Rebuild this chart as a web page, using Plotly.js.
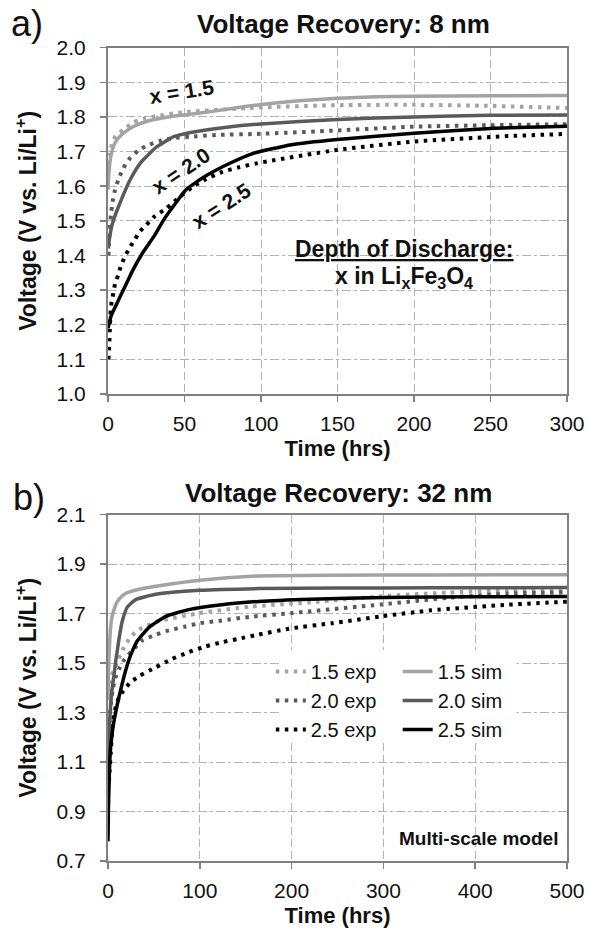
<!DOCTYPE html>
<html><head><meta charset="utf-8">
<script src="https://cdn.plot.ly/plotly-3.0.1.min.js"></script>
<style>html,body{margin:0;padding:0;background:#fff}#chart{width:589px;height:930px}</style>
</head><body><div id="chart"></div>
<script>
// ---------- Panel a: 8 nm ----------
const a_t_15exp = [0.5, 1.2, 2.4, 5, 10, 16.5, 24, 32, 50, 97, 150, 200, 250, 300];
const a_v_15exp = [1.66, 1.69, 1.719, 1.745, 1.763, 1.784, 1.796, 1.803, 1.814, 1.827, 1.834, 1.835, 1.832, 1.826];
const a_t_20exp = [0.3, 1, 2, 3, 4.6, 6.7, 10, 14.4, 19.8, 26.3, 34, 42.7, 53.6, 71, 97, 150, 200, 263, 300];
const a_v_20exp = [1.40, 1.47, 1.52, 1.555, 1.589, 1.618, 1.652, 1.681, 1.703, 1.719, 1.731, 1.739, 1.743, 1.748, 1.751, 1.761, 1.772, 1.777, 1.779];
const a_t_25exp = [0.3, 0.8, 1.3, 1.8, 2.4, 3.5, 4.6, 6.7, 8.3, 10.5, 13.3, 16.5, 21, 25, 29.6, 38.4, 47, 55, 63, 75, 86, 97, 150, 200, 263, 300];
const a_v_25exp = [1.10, 1.14, 1.20, 1.243, 1.267, 1.291, 1.318, 1.344, 1.368, 1.392, 1.416, 1.439, 1.47, 1.488, 1.510, 1.537, 1.57, 1.597, 1.618, 1.642, 1.655, 1.666, 1.705, 1.729, 1.745, 1.751];
const a_t_15sim = [0, 1, 2, 4, 6, 10, 16, 25, 38, 50, 65, 80, 100, 125, 150, 175, 200, 250, 300];
const a_v_15sim = [1.59, 1.66, 1.69, 1.72, 1.735, 1.753, 1.771, 1.787, 1.799, 1.806, 1.814, 1.824, 1.836, 1.847, 1.854, 1.858, 1.860, 1.861, 1.862];
const a_t_20sim = [0, 1, 2.4, 5, 7.8, 10, 14.4, 21, 32, 43, 54, 75, 100, 150, 200, 250, 300];
const a_v_20sim = [1.42, 1.45, 1.484, 1.52, 1.551, 1.575, 1.618, 1.666, 1.714, 1.743, 1.755, 1.769, 1.780, 1.793, 1.800, 1.805, 1.806];
const a_t_25sim = [0, 2, 4.6, 10, 16.5, 23, 30, 36, 44, 51, 64, 80, 95, 120, 150, 200, 250, 300];
const a_v_25sim = [1.19, 1.225, 1.25, 1.30, 1.36, 1.41, 1.455, 1.50, 1.55, 1.59, 1.63, 1.667, 1.695, 1.72, 1.735, 1.753, 1.767, 1.773];

// ---------- Panel b: 32 nm ----------
const b_t_15exp = [1, 2.5, 4.7, 10, 17.4, 24.6, 33.7, 52, 100, 155, 226, 298, 371, 436, 500];
const b_v_15exp = [1.38, 1.42, 1.456, 1.503, 1.564, 1.605, 1.635, 1.666, 1.702, 1.728, 1.747, 1.770, 1.785, 1.795, 1.80];
const b_t_20exp = [0.5, 1.5, 3, 5, 8, 12, 18, 26.4, 37.3, 51.8, 66.3, 84.5, 100, 124, 155, 200, 298, 371, 436, 500];
const b_v_20exp = [1.15, 1.25, 1.33, 1.39, 1.44, 1.476, 1.515, 1.55, 1.591, 1.614, 1.632, 1.648, 1.661, 1.672, 1.687, 1.702, 1.737, 1.764, 1.781, 1.786];
const b_t_25exp = [1, 1.8, 2.9, 4, 5.4, 8.3, 12, 18, 24.6, 33.7, 52, 70, 88, 106, 124, 142, 160, 197, 244, 298, 352, 436, 500];
const b_v_25exp = [1.02, 1.064, 1.132, 1.20, 1.267, 1.32, 1.361, 1.395, 1.422, 1.447, 1.483, 1.517, 1.544, 1.567, 1.584, 1.598, 1.612, 1.639, 1.661, 1.689, 1.713, 1.736, 1.748];
const b_t_15sim = [0, 0.5, 1, 2, 3, 4.5, 6.5, 8.3, 12, 19, 34, 52, 100, 164, 250, 350, 500];
const b_v_15sim = [1.35, 1.45, 1.52, 1.60, 1.65, 1.69, 1.715, 1.735, 1.758, 1.781, 1.798, 1.810, 1.835, 1.852, 1.855, 1.856, 1.857];
const b_t_20sim = [0, 1, 2, 3.5, 5, 6.5, 8.5, 10.5, 12.5, 15.6, 21, 30, 52, 100, 164, 250, 350, 500];
const b_v_20sim = [1.10, 1.20, 1.28, 1.36, 1.41, 1.45, 1.51, 1.56, 1.61, 1.67, 1.726, 1.756, 1.778, 1.794, 1.801, 1.803, 1.804, 1.805];
const b_t_25sim = [0, 0.4, 1.1, 1.8, 2.9, 5.4, 10, 15, 20, 25, 32, 45, 63, 88, 124, 164, 220, 300, 400, 500];
const b_v_25sim = [0.78, 0.90, 1.00, 1.09, 1.16, 1.24, 1.33, 1.41, 1.48, 1.535, 1.59, 1.645, 1.689, 1.716, 1.736, 1.749, 1.758, 1.765, 1.768, 1.769];

// tick labels
const a_xticks = [0, 50, 100, 150, 200, 250, 300];
const a_yticks = [1.0, 1.1, 1.2, 1.3, 1.4, 1.5, 1.6, 1.7, 1.8, 1.9, 2.0];
const b_xticks = [0, 100, 200, 300, 400, 500];
const b_yticks = [0.7, 0.9, 1.1, 1.3, 1.5, 1.7, 1.9, 2.1];

const legendNames = ['1.5 exp', '2.0 exp', '2.5 exp', '1.5 sim', '2.0 sim', '2.5 sim'];

// ---------- styling ----------
const W = 589, H = 930, ML = 108, MR = 21.5;
const PW = W - ML - MR;
const X = px => (px - ML) / PW;
const Y = py => 1 - py / H;
const FONT = 'Liberation Sans, Arial, Helvetica, sans-serif';
const C_LIGHT = '#a3a3a3', C_DARK = '#5a5a5a', C_BLACK = '#000000';
const DOT = '3.5px,5.5px';

function exp(t, v, color, xa, ya, name, legend) {
  return {x: t, y: v, type: 'scatter', mode: 'lines', xaxis: xa, yaxis: ya,
    name: name, showlegend: !!legend, legend: legend || 'legend',
    line: {color: color, width: 4, dash: DOT, shape: 'spline', smoothing: 0.5}};
}
function sim(t, v, color, xa, ya, name, legend) {
  return {x: t, y: v, type: 'scatter', mode: 'lines', xaxis: xa, yaxis: ya,
    name: name, showlegend: !!legend, legend: legend || 'legend',
    line: {color: color, width: 3.5, shape: 'spline', smoothing: 0.5}};
}

const traces = [
  exp(a_t_15exp, a_v_15exp, C_LIGHT, 'x', 'y', '1.5 exp'),
  exp(a_t_20exp, a_v_20exp, C_DARK, 'x', 'y', '2.0 exp'),
  exp(a_t_25exp, a_v_25exp, C_BLACK, 'x', 'y', '2.5 exp'),
  sim(a_t_15sim, a_v_15sim, C_LIGHT, 'x', 'y', '1.5 sim'),
  sim(a_t_20sim, a_v_20sim, C_DARK, 'x', 'y', '2.0 sim'),
  sim(a_t_25sim, a_v_25sim, C_BLACK, 'x', 'y', '2.5 sim'),
  exp(b_t_15exp, b_v_15exp, C_LIGHT, 'x2', 'y2', legendNames[0], 'legend'),
  exp(b_t_20exp, b_v_20exp, C_DARK, 'x2', 'y2', legendNames[1], 'legend'),
  exp(b_t_25exp, b_v_25exp, C_BLACK, 'x2', 'y2', legendNames[2], 'legend'),
  sim(b_t_15sim, b_v_15sim, C_LIGHT, 'x2', 'y2', legendNames[3], 'legend2'),
  sim(b_t_20sim, b_v_20sim, C_DARK, 'x2', 'y2', legendNames[4], 'legend2'),
  sim(b_t_25sim, b_v_25sim, C_BLACK, 'x2', 'y2', legendNames[5], 'legend2')
];

const tickFont = {family: FONT, size: 21, color: '#111'};
const xTitleFont = {family: FONT, size: 22, color: '#111', weight: 'bold'};
const yTitleFont = {family: FONT, size: 23, color: '#111', weight: 'bold'};
function xaxis(range, ticks, anchor) {
  return {range: range, tickmode: 'array', tickvals: ticks, ticktext: ticks.map(String),
    anchor: anchor, domain: [0, 1], showgrid: true, gridcolor: '#b3b3b3', gridwidth: 1, griddash: '8px,4px',
    zeroline: false, showline: true, mirror: true, linecolor: '#808080', linewidth: 2,
    ticks: 'outside', ticklen: 6, tickwidth: 1.5, tickcolor: '#808080', ticklabelstandoff: 4,
    tickfont: tickFont, fixedrange: true,
    title: {text: '<b>Time (hrs)</b>', font: xTitleFont, standoff: 6}};
}
function yaxis(range, ticks, anchor, domain) {
  return {range: range, tickmode: 'array', tickvals: ticks, ticktext: ticks.map(v => v.toFixed(1)),
    anchor: anchor, domain: domain, showgrid: true, gridcolor: '#b3b3b3', gridwidth: 1, griddash: 'dashdot',
    zeroline: false, showline: true, mirror: true, linecolor: '#808080', linewidth: 2,
    ticks: 'outside', ticklen: 6, tickwidth: 1.5, tickcolor: '#808080', ticklabelstandoff: 10,
    tickfont: tickFont, fixedrange: true,
    title: {text: '<b>Voltage (V vs. Li/Li<sup>+</sup>)</b>', font: yTitleFont, standoff: 14}};
}

function ann(text, px, py, size, opts) {
  return Object.assign({text: text, xref: 'paper', yref: 'paper', x: X(px), y: Y(py),
    xanchor: 'center', yanchor: 'middle', showarrow: false,
    font: {family: FONT, size: size, color: '#111'}}, opts || {});
}

const legendBase = {bgcolor: 'rgba(255,255,255,0)', borderwidth: 0, itemwidth: 30,
  font: {family: FONT, size: 20, color: '#111'}, xanchor: 'left', yanchor: 'top',
  tracegroupgap: 0, itemclick: false, itemdoubleclick: false};

const layout = {
  width: W, height: H, margin: {l: ML, r: MR, t: 0, b: 0, pad: 0},
  paper_bgcolor: '#fff', plot_bgcolor: '#fff', hovermode: false,
  xaxis: xaxis([0, 300], a_xticks, 'y'),
  yaxis: yaxis([1.0, 2.0], a_yticks, 'x', [Y(394), Y(47.7)]),
  xaxis2: xaxis([0, 500], b_xticks, 'y2'),
  yaxis2: yaxis([0.7, 2.1], b_yticks, 'x2', [Y(861), Y(514.6)]),
  legend: Object.assign({}, legendBase, {x: X(271), y: Y(652)}),
  legend2: Object.assign({}, legendBase, {x: X(398), y: Y(652)}),
  shapes: [{type: 'rect', xref: 'paper', yref: 'paper', x0: X(279), x1: X(517), y0: Y(740), y1: Y(650),
    fillcolor: '#fff', line: {width: 0}, layer: 'above'}],
  annotations: [
    ann('a)', 9, 24, 36, {xanchor: 'left'}),
    ann('b)', 11, 497, 36, {xanchor: 'left'}),
    ann('<b>Voltage Recovery: 8 nm</b>', 344, 24, 26),
    ann('<b>Voltage Recovery: 32 nm</b>', 339, 493, 26),
    ann('<b>x = 1.5</b>', 182, 91, 21, {textangle: -9}),
    ann('<b>x = 2.0</b>', 181, 170, 21, {textangle: -34}),
    ann('<b>x = 2.5</b>', 222, 206, 21, {textangle: -33}),
    ann('<b><u>Depth of Discharge:</u></b>', 405, 249, 23),
    ann('<b>x in Li<sub>x</sub>Fe<sub>3</sub>O<sub>4</sub></b>', 404, 277, 23),
    ann('<b>Multi-scale model</b>', 479, 838, 19)
  ]
};

Plotly.newPlot('chart', traces, layout, {staticPlot: true, displayModeBar: false});
</script></body></html>
